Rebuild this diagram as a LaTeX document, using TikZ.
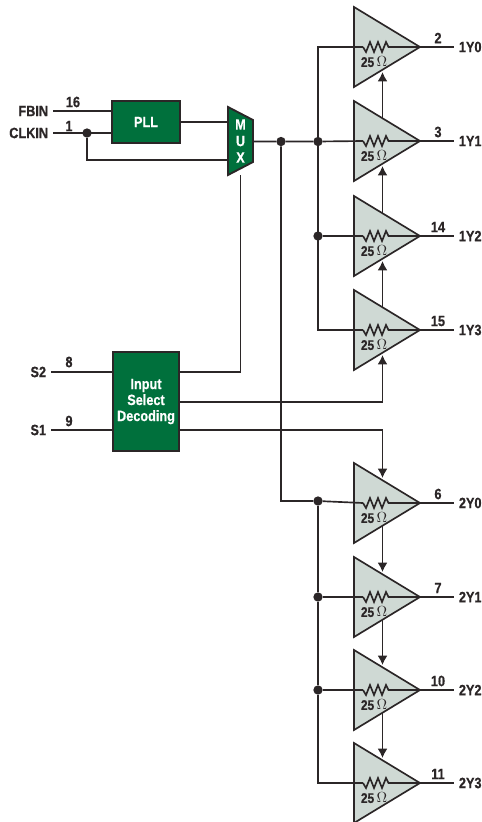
\documentclass[tikz,border=0pt]{standalone}
\usepackage{fontspec}
\setmainfont[FakeStretch=0.85,BoldFeatures={FakeBold=0.6}]{Liberation Sans}
\usetikzlibrary{arrows.meta,calc,shapes.geometric}

\definecolor{blockgreen}{HTML}{00703C}
\definecolor{buffergrey}{HTML}{CFD9D4}
\definecolor{inkline}{HTML}{2B2627}

\begin{document}
\begin{tikzpicture}[x=0.75pt,y=-0.75pt]

% --- Global TikZ Styles ---
\tikzset{
    wire/.style={
        draw=inkline,
        line width=1.25pt
    },
    arrowwire/.style={
        wire,
        -{Latex[length=7pt,width=7.5pt]}
    },
    blockbox/.style={
        fill=blockgreen,
        draw=inkline,
        line width=1.4pt,
        inner sep=0pt,
        text=white,
        align=center,
        font=\bfseries\fontsize{11.2}{12}\selectfont
    },
    bufferbox/.style={
        isosceles triangle,
        isosceles triangle stretches,
        fill=buffergrey,
        draw=inkline,
        line width=1.25pt,
        inner sep=0pt,
        outer sep=0pt,
        minimum width=60pt,
        minimum height=49.5pt,
        anchor=lower side
    },
    junction/.style={
        circle,
        fill=inkline,
        inner sep=0pt,
        minimum size=7pt
    },
    pinname/.style={
        text=inkline,
        inner xsep=3.5pt,
        inner ysep=0pt,
        font=\bfseries\fontsize{11.2}{12}\selectfont
    },
    pinnum/.style={
        text=inkline,
        inner sep=0pt,
        font=\bfseries\fontsize{11.2}{12}\selectfont
    },
    ohms/.style={
        text=inkline,
        inner sep=0pt,
        font=\bfseries\fontsize{10.5}{11}\selectfont
    }
}

\useasboundingbox (0,0) rectangle (482,822);

% ==================================================
% --- Left blocks ---
% ==================================================

\node[blockbox,minimum width=51pt,minimum height=31pt] (pll) at (146,122) {PLL};
\node[blockbox,minimum width=50pt,minimum height=74.5pt] (decode) at (146,401.5)
    {Input\\Select\\Decoding};

% MUX outline, text node sits on top of it
\path[fill=blockgreen,draw=inkline,line width=1.4pt,line join=miter]
    (228,107) -- (253,120) -- (253,162) -- (228,175) -- cycle;
\node[text=white,inner sep=0pt,minimum width=18.75pt,minimum height=51pt,align=center,
    font=\bfseries\fontsize{11.2}{12.4}\selectfont] (mux) at (240.5,141) {M\\U\\X};

% ==================================================
% --- Input pins ---
% ==================================================

\node[pinname,anchor=east] (fbin) at (53,111) {FBIN};
\node[pinname,anchor=east] (clkin) at (53,133) {CLKIN};
\node[pinname,anchor=east] (stwo) at (51,372) {S2};
\node[pinname,anchor=east] (sone) at (51,430) {S1};

\node[pinnum] (n16) at (73,102) {16};
\node[pinnum] (n1) at (69,126) {1};
\node[pinnum] (n8) at (69,362) {8};
\node[pinnum] (n9) at (69,421) {9};

\node[junction] (clkdot) at (87,133) {};

\draw[wire] (fbin.east) -- (fbin.east -| pll.west);
\draw[wire] (clkin.east) -- (clkin.east -| pll.west);
\draw[wire] (stwo.east) -- (stwo.east -| decode.west);
\draw[wire] (sone.east) -- (sone.east -| decode.west);

% ==================================================
% --- Buffers ---
% ==================================================

\foreach \y/\name/\pin in {47/1Y0/2,141/1Y1/3,236/1Y2/14,330/1Y3/15,
                           503/2Y0/6,597/2Y1/7,690/2Y2/10,783/2Y3/11}{
    \node[bufferbox] (buf\name) at (354,\y) {};
    \node[pinname,anchor=west] (out\name) at (454,\y) {\name};
    \node[pinnum] (pin\name) at (438,\y-9) {\pin};
    \node[ohms] (ohm\name) at (374,\y+15) {25\,$\Omega$};
    \draw[wire] (buf\name.apex) -- (out\name.west);
    % resistor
    \coordinate (res\name) at (363,\y);
    \draw[wire] (res\name) -- ++(3,5) -- ++(4,-10) -- ++(4,10) -- ++(4,-10)
        -- ++(4,10) -- ++(4,-10) -- ++(2.5,5) -- (buf\name.apex);
}

% ==================================================
% --- Clock bus ---
% ==================================================

\node[junction] (muxdot) at (281,141.5) {};
\node[junction] (bankadot) at (318,141.5) {};
\node[junction] (bankbdot) at (318,236) {};
\node[junction] (bankcdot) at (318,501) {};
\node[junction] (bankddot) at (318,597) {};
\node[junction] (bankedot) at (318,690) {};

\draw[wire] (mux.east |- muxdot) -- (muxdot) -- (bankadot) -- (res1Y1);
\draw[wire] (res1Y0) -| (bankadot) |- (res1Y3);
\draw[wire] (bankbdot) -- (res1Y2);
\draw[wire] (muxdot) |- (bankcdot) -- (res2Y0);
\draw[wire] (bankcdot) -- (bankddot) -- (bankedot) |- (res2Y3);
\draw[wire] (bankddot) -- (res2Y1);
\draw[wire] (bankedot) -- (res2Y2);

% ==================================================
% --- Mux connections ---
% ==================================================

\draw[wire] (pll.east) -- (pll.east -| mux.west);
\draw[wire] (clkdot) |- (mux.west |- 0,160);
\draw[wire] (mux.south) |- (decode.east |- stwo);

% ==================================================
% --- Select arrows ---
% ==================================================

\foreach \from/\to in {1Y1/1Y0,1Y2/1Y1,1Y3/1Y2}{
    \draw[arrowwire] ($(buf\from.lower side)+(28.5,-23)$) -- ($(buf\to.lower side)+(28.5,25)$);
}
\foreach \from/\to in {2Y0/2Y1,2Y1/2Y2,2Y2/2Y3}{
    \draw[arrowwire] ($(buf\from.lower side)+(28.5,23)$) -- ($(buf\to.lower side)+(28.5,-25)$);
}
\draw[arrowwire] (decode.east |- 0,402) -| ($(buf1Y3.lower side)+(28.5,25)$);
\draw[arrowwire] (decode.east |- sone) -| ($(buf2Y0.lower side)+(28.5,-25)$);

\end{tikzpicture}
\end{document}
